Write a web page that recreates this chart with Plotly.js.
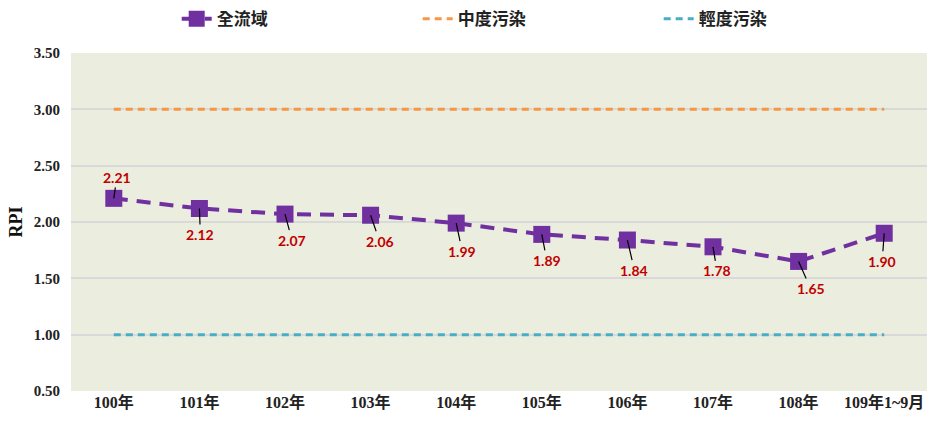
<!DOCTYPE html>
<html>
<head>
<meta charset="utf-8">
<script src="https://cdn.plot.ly/plotly-3.0.1.min.js"></script>
<style>html,body{margin:0;padding:0;background:#fff}#chart{width:930px;height:427px}</style>
</head>
<body>
<div id="chart"></div>
<script>
const categories = ["100年","101年","102年","103年","104年","105年","106年","107年","108年","109年1~9月"];
const wholeBasin = [2.21, 2.12, 2.07, 2.06, 1.99, 1.89, 1.84, 1.78, 1.65, 1.90];
const moderatePollution = [3.00, 3.00, 3.00, 3.00, 3.00, 3.00, 3.00, 3.00, 3.00, 3.00];
const lightPollution = [1.00, 1.00, 1.00, 1.00, 1.00, 1.00, 1.00, 1.00, 1.00, 1.00];
const seriesNames = ["全流域", "中度污染", "輕度污染"];
const yTicks = [0.5, 1.0, 1.5, 2.0, 2.5, 3.0, 3.5];

// label leader offsets (px) for annotations
const labelOffsets = [[3,-21],[1,26],[7,26],[9,26],[6,28],[5,26],[7,30],[4,24],[12,27],[-2,28]];

const serif = "Liberation Serif, Noto Sans CJK TC, serif";

const traces = [
  {
    x: categories, y: wholeBasin, name: seriesNames[0], type: "scatter", mode: "lines+markers",
    line: {color: "#7030a0", width: 4, dash: "14px,9px"},
    marker: {symbol: "square", size: 17, color: "#7030a0"}
  },
  {
    x: categories, y: moderatePollution, name: seriesNames[1], type: "scatter", mode: "lines",
    line: {color: "#f79646", width: 3, dash: "7px,5px"}
  },
  {
    x: categories, y: lightPollution, name: seriesNames[2], type: "scatter", mode: "lines",
    line: {color: "#4bacc6", width: 3, dash: "7px,5px"}
  }
];

const annotations = wholeBasin.map((v, i) => ({
  x: categories[i], y: v, xref: "x", yref: "y",
  text: v.toFixed(2),
  showarrow: true, arrowhead: 0, arrowwidth: 1.2, arrowcolor: "#000",
  ax: labelOffsets[i][0], ay: labelOffsets[i][1], standoff: 0,
  font: {family: "Lato, Liberation Sans, sans-serif", size: 14, color: "#c00000", weight: "bold"}
}));

const layout = {
  width: 930, height: 427,
  margin: {l: 71, r: 3, t: 53, b: 36},
  paper_bgcolor: "#ffffff",
  plot_bgcolor: "#ebeddf",
  showlegend: true,
  legend: {
    orientation: "h", x: 0.19, xanchor: "left", xref: "container",
    y: 0.955, yanchor: "middle", yref: "container",
    entrywidth: 196, entrywidthmode: "pixels",
    font: {family: "Noto Sans CJK TC, sans-serif", size: 17, color: "#222", weight: "bold"},
    bgcolor: "rgba(0,0,0,0)"
  },
  xaxis: {
    type: "category",
    showgrid: false, zeroline: false, showline: false,
    ticks: "",
    tickfont: {family: serif, size: 16, color: "#222", weight: "bold"},
    range: [-0.5, 9.5]
  },
  yaxis: {
    range: [0.5, 3.5],
    tickvals: yTicks,
    ticktext: yTicks.map(v => v.toFixed(2)),
    showgrid: true, gridcolor: "#d9d9d9", gridwidth: 2,
    zeroline: false, showline: false, ticks: "",
    ticklabelstandoff: 10,
    tickfont: {family: serif, size: 15, color: "#222", weight: "bold"},
    title: {text: "RPI", font: {family: serif, size: 18, color: "#111", weight: "bold"}, standoff: 6}
  },
  annotations: annotations
};

Plotly.newPlot("chart", traces, layout, {displayModeBar: false, staticPlot: true});
</script>
</body>
</html>
